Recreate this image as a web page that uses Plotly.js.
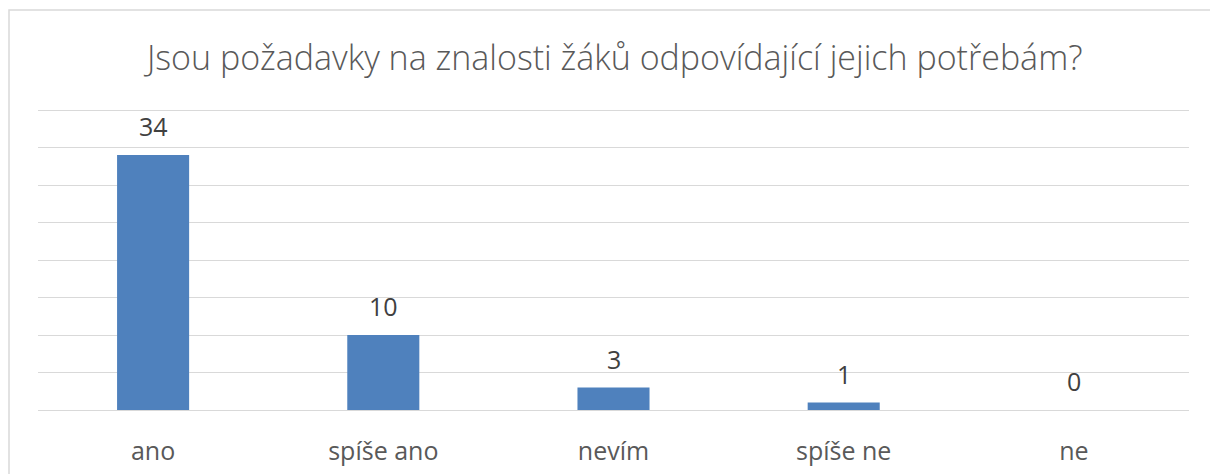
<!DOCTYPE html>
<html>
<head>
<meta charset="utf-8">
<script src="https://cdn.plot.ly/plotly-3.0.1.min.js"></script>
<style>html,body{margin:0;padding:0;background:#fff;}#chart{width:1210px;height:474px;}</style>
</head>
<body>
<div id="chart"></div>
<script>
const categories = ["ano", "spíše ano", "nevím", "spíše ne", "ne"];
const values = [34, 10, 3, 1, 0];
const titleText = "Jsou požadavky na znalosti žáků odpovídající jejich potřebám?";

const FONT = "Open Sans, sans-serif";

const trace = {
  type: "bar",
  x: categories,
  y: values,
  marker: {color: "#4F81BD"},
  hoverinfo: "x+y"
};

const annotations = categories.map((c, i) => ({
  x: c, y: values[i], xref: "x", yref: "y",
  text: String(values[i]),
  showarrow: false,
  yanchor: "bottom",
  yshift: 10,
  font: {family: FONT, size: 25, color: "#404040"}
}));

const layout = {
  width: 1210, height: 474,
  margin: {l: 38, r: 21, t: 108, b: 64},
  paper_bgcolor: "#fff",
  plot_bgcolor: "#fff",
  showlegend: false,
  bargap: 0.687,
  title: {
    text: titleText,
    font: {family: FONT, size: 34, color: "#595959", weight: 300},
    x: 0.508, xanchor: "center",
    y: 1 - 58/474, yanchor: "middle", yref: "container"
  },
  xaxis: {
    type: "category",
    showgrid: false,
    showline: false,
    zeroline: false,
    ticks: "",
    ticklabelstandoff: 24,
    tickfont: {family: FONT, size: 25, color: "#595959"},
    fixedrange: true
  },
  yaxis: {
    range: [0, 40.27],
    dtick: 5,
    tick0: 0,
    showgrid: true,
    gridcolor: "#d9d9d9",
    gridwidth: 1,
    zeroline: true,
    zerolinecolor: "#d9d9d9",
    zerolinewidth: 1,
    showticklabels: false,
    ticks: "",
    fixedrange: true
  },
  annotations: annotations,
  shapes: [{
    type: "rect",
    xref: "paper", yref: "paper",
    x0: (9 - 38) / 1151, x1: (1230 - 38) / 1151,
    y0: -(500 - 410) / 302, y1: (410 - 10) / 302,
    line: {color: "#d9d9d9", width: 1.5},
    fillcolor: "rgba(0,0,0,0)",
    layer: "below"
  }]
};

Plotly.newPlot("chart", [trace], layout, {displayModeBar: false, staticPlot: true});
</script>
</body>
</html>
